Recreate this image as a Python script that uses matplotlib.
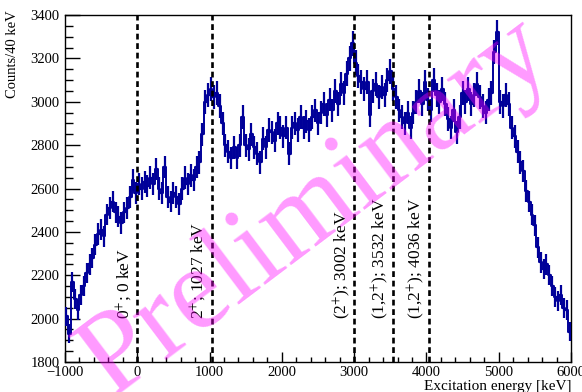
import matplotlib
matplotlib.use('Agg')
import matplotlib.pyplot as plt
from matplotlib.ticker import MultipleLocator
import numpy as np

plt.rcParams['font.family'] = ['Liberation Serif', 'DejaVu Serif']
plt.rcParams['mathtext.fontset'] = 'stix'

# histogram: 40 keV bins starting at -1000 keV
bin_start = -1000
bin_width = 40
counts = [
    # -1000 .. 0
    2010, 1930, 2170, 2090, 2040, 2110, 2150, 2210, 2250, 2280,
    2340, 2390, 2410, 2380, 2480, 2510, 2540, 2490, 2470, 2440,
    2490, 2510, 2560, 2640, 2580,
    # 0 .. 1000
    2620, 2600, 2630, 2610, 2650, 2620, 2690, 2600, 2580, 2700,
    2560, 2540, 2580, 2560, 2530, 2600, 2650, 2620, 2660, 2640,
    2700, 2720, 2850, 3000, 3030,
    # 1000 .. 2000
    3060, 3020, 3040, 2980, 2900, 2800, 2770, 2740, 2790, 2740,
    2800, 2930, 2800, 2780, 2850, 2790, 2760, 2720, 2830, 2790,
    2870, 2860, 2820, 2900, 2880,
    # 2000 .. 3000
    2840, 2880, 2760, 2880, 2900, 2870, 2930, 2880, 2910, 2870,
    2930, 2960, 2900, 2950, 2990, 2940, 3010, 2960, 3050, 2990,
    3080, 3040, 3130, 3200, 3270,
    # 3000 .. 4000
    3180, 3120, 3090, 3060, 3090, 2940, 3050, 3080, 3020, 3070,
    3030, 3100, 3140, 3060, 3020, 2960, 2930, 2900, 2950, 2880,
    2950, 3000, 3050, 2990, 3090,
    # 4000 .. 5000
    3010, 2960, 3100, 3030, 3000, 3060, 2990, 2920, 2880, 2960,
    2860, 2930, 3040, 3000, 3060, 2990, 3030, 3080, 3020, 2980,
    2950, 3010, 3040, 3230, 3320,
    # 5000 .. 6000
    3000, 2980, 3030, 2990, 2880, 2840, 2770, 2720, 2680, 2590,
    2540, 2480, 2430, 2330, 2260, 2230, 2250, 2200, 2150, 2100,
    2080, 2110, 2050, 2040, 1940,
]

level_energies = [0, 1027, 3002, 3532, 4036]
level_labels = [r'0$^{+}$; 0 keV', r'2$^{+}$; 1027 keV', r'(2$^{+}$); 3002 keV',
                r'(1,2$^{+}$); 3532 keV', r'(1,2$^{+}$); 4036 keV']

counts = np.array(counts, dtype=float)
centers = bin_start + bin_width * (np.arange(len(counts)) + 0.5)
errors = np.sqrt(counts)

fig = plt.figure(figsize=(5.82, 3.92), dpi=100)
ax = fig.add_axes([65 / 582, 1 - 362 / 392, 506 / 582, 347 / 392])

# histogram drawn as connected steps plus error bars
ax.plot(centers, counts, drawstyle='steps-mid', color='#000099', lw=1.4, zorder=3)
ax.errorbar(centers, counts, xerr=bin_width / 2, yerr=errors, fmt='none',
            ecolor='#000099', elinewidth=1.6, capsize=0, zorder=3)

for e, lab in zip(level_energies, level_labels):
    ax.axvline(e, color='black', lw=1.9, ls=(0, (2.2, 1.4)), zorder=4)
    ax.text(e - 175, 2000, lab, rotation=90, ha='center', va='bottom',
            fontsize=12.5, zorder=5)

ax.set_xlim(-1000, 6000)
ax.set_ylim(1800, 3400)
ax.xaxis.set_major_locator(MultipleLocator(1000))
ax.xaxis.set_minor_locator(MultipleLocator(200))
ax.yaxis.set_major_locator(MultipleLocator(200))
ax.yaxis.set_minor_locator(MultipleLocator(50))
ax.tick_params(which='both', direction='in', top=False, right=False,
               labelsize=10.5, width=1)
ax.tick_params(axis='x', which='major', length=7.2, pad=3)
ax.tick_params(axis='x', which='minor', length=3.6)
ax.tick_params(axis='y', which='major', length=10.8, pad=4)
ax.tick_params(axis='y', which='minor', length=5.4)
for s in ax.spines.values():
    s.set_linewidth(1.0)

fig.text(572 / 582, 1 - 380 / 392, 'Excitation energy [keV]', ha='right', va='top',
         fontsize=11)
fig.text(13 / 582, 1 - 10 / 392, 'Counts/40 keV', rotation=90, ha='center', va='top',
         fontsize=10.5)

fig.text(0.545, 0.47, 'Preliminary', fontsize=85, color='magenta', alpha=0.4,
         rotation=37, ha='center', va='center', zorder=10)

fig.savefig('out.png', dpi=100)
